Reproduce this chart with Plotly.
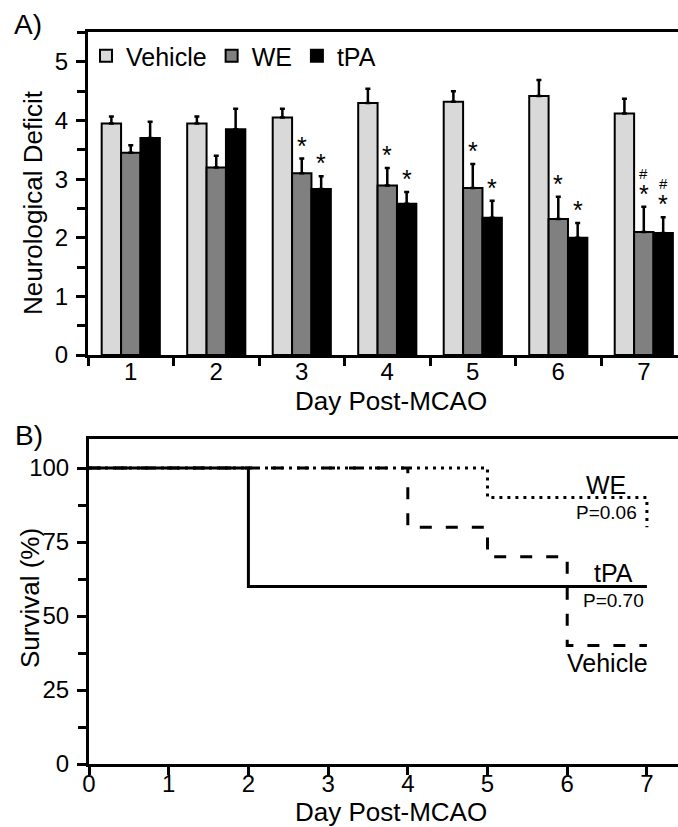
import plotly.graph_objects as go

# ---------------- Panel A data ----------------
days = [1, 2, 3, 4, 5, 6, 7]
vehicle = [3.95, 3.95, 4.05, 4.30, 4.32, 4.42, 4.12]
vehicle_err = [0.12, 0.12, 0.15, 0.24, 0.18, 0.27, 0.25]
we = [3.45, 3.20, 3.10, 2.89, 2.85, 2.32, 2.10]
we_err = [0.13, 0.20, 0.25, 0.30, 0.41, 0.38, 0.43]
tpa = [3.70, 3.85, 2.83, 2.58, 2.34, 2.00, 2.08]
tpa_err = [0.28, 0.35, 0.22, 0.20, 0.29, 0.25, 0.27]
we_star = ["", "", "*", "*", "*", "*", "*"]
we_hash = ["", "", "", "", "", "", "#"]
tpa_star = ["", "", "*", "*", "*", "*", "*"]
tpa_hash = ["", "", "", "", "", "", "#"]

# ---------------- Panel B data ----------------
surv_days_veh = [0, 4, 5, 6, 7]
surv_veh = [100, 80, 70, 40, 40]
surv_days_we = [0, 5, 7]
surv_we = [100, 90, 80]
surv_days_tpa = [0, 2, 7]
surv_tpa = [100, 60, 60]

FONT = "Liberation Sans, Arial, Helvetica, sans-serif"
W, H = 678, 827
BARGAP = 0.32
bw = (1 - BARGAP) / 3


def px_x(p):
    return p / W


def px_y(p):
    return (H - p) / H


fig = go.Figure()

bar_common = dict(xaxis="x", yaxis="y", marker_line_color="black", marker_line_width=2)
for name, vals, errs, col in [("Vehicle", vehicle, vehicle_err, "#d9d9d9"),
                              ("WE", we, we_err, "#808080"),
                              ("tPA", tpa, tpa_err, "#000000")]:
    fig.add_trace(go.Bar(
        x=days, y=vals, name=name, marker_color=col,
        error_y=dict(type="data", array=errs, arrayminus=[0] * len(errs), symmetric=False,
                     color="black", thickness=2.5, width=2.5),
        **bar_common))

# survival curves
fig.add_trace(go.Scatter(x=surv_days_veh, y=surv_veh, mode="lines", line_shape="hv",
                         line=dict(color="black", width=3, dash="12px,14px"),
                         xaxis="x2", yaxis="y2", showlegend=False))
fig.add_trace(go.Scatter(x=surv_days_we, y=surv_we, mode="lines", line_shape="hv",
                         line=dict(color="black", width=3, dash="3px,5px"),
                         xaxis="x2", yaxis="y2", showlegend=False))
fig.add_trace(go.Scatter(x=surv_days_tpa, y=surv_tpa, mode="lines", line_shape="hv",
                         line=dict(color="black", width=3),
                         xaxis="x2", yaxis="y2", showlegend=False))

ann = []
# significance markers
for i, d in enumerate(days):
    for offs, vals, errs, star, hsh in [(0.0, we, we_err, we_star, we_hash),
                                       (bw, tpa, tpa_err, tpa_star, tpa_hash)]:
        top = vals[i] + errs[i]
        if star[i]:
            ann.append(dict(x=d + offs, y=top, xref="x", yref="y", text=star[i], showarrow=False,
                            xanchor="center", yanchor="bottom", yshift=-3,
                            font=dict(size=25, family=FONT, color="black")))
        if hsh[i]:
            ann.append(dict(x=d + offs, y=top, xref="x", yref="y", text=hsh[i], showarrow=False,
                            xanchor="center", yanchor="bottom", yshift=23,
                            font=dict(size=15, family=FONT, color="black")))

# survival labels
for txt, x, y, sz in [("WE", 6.49, 94.3, 25), ("P=0.06", 6.49, 85.1, 19),
                      ("tPA", 6.58, 64.5, 25), ("P=0.70", 6.58, 55.4, 19),
                      ("Vehicle", 6.5, 34.1, 25)]:
    ann.append(dict(x=x, y=y, xref="x2", yref="y2", text=txt, showarrow=False,
                    xanchor="center", yanchor="middle",
                    font=dict(size=sz, family=FONT, color="black")))

TITLE_SZ = 26
# panel letters and axis titles
for txt, x, y, ang, sz in [("A)", 28, 25, 0, 28), ("B)", 29, 435, 0, 28),
                           ("Day Post-MCAO", 391, 401, 0, TITLE_SZ),
                           ("Day Post-MCAO", 391, 812, 0, TITLE_SZ),
                           ("Neurological Deficit", 33, 203, -90, TITLE_SZ),
                           ("Survival (%)", 30, 598, -90, TITLE_SZ)]:
    ann.append(dict(x=px_x(x), y=px_y(y), xref="paper", yref="paper", text=txt, showarrow=False,
                    xanchor="center", yanchor="middle", textangle=ang,
                    font=dict(size=sz, family=FONT, color="black")))

axis_common = dict(showgrid=False, zeroline=False, showline=True, linecolor="black", linewidth=3,
                   tickfont=dict(size=24, family=FONT, color="black"), tickcolor="black",
                   tickwidth=3, automargin=False)

fig.update_layout(
    template="none",
    width=W, height=H, margin=dict(l=0, r=0, t=0, b=0, pad=0), autosize=False,
    paper_bgcolor="white", plot_bgcolor="white",
    barmode="group", bargap=BARGAP, bargroupgap=0,
    font=dict(family=FONT, color="black"),
    showlegend=True,
    legend=dict(orientation="h", x=px_x(86), y=px_y(33), xanchor="left", yanchor="top",
                font=dict(size=25, family=FONT, color="black"), bgcolor="rgba(0,0,0,0)",
                borderwidth=0, itemclick=False, traceorder="normal"),
    xaxis=dict(domain=[px_x(88), 1], anchor="y", range=[0.5, 7.4],
               tickvals=days, ticktext=[str(d) for d in days], ticks="",
               minor=dict(ticks="outside", tick0=0.5, dtick=1, ticklen=8, tickwidth=3, tickcolor="black"),
               ticklabelstandoff=-7, mirror=True, **axis_common),
    yaxis=dict(domain=[px_y(355), px_y(32)], anchor="x", range=[0, 5.51],
               tickvals=[0, 1, 2, 3, 4, 5], ticks="outside", ticklen=9,
               minor=dict(ticks="outside", tick0=0.5, dtick=1, ticklen=8, tickwidth=3, tickcolor="black"),
               ticklabelstandoff=3, **axis_common),
    xaxis2=dict(domain=[px_x(89), 1], anchor="y2", range=[0, 7.39],
                tickvals=[0, 1, 2, 3, 4, 5, 6, 7], ticks="outside", ticklen=8,
                ticklabelstandoff=-12, mirror=True, **axis_common),
    yaxis2=dict(domain=[px_y(764), px_y(439)], anchor="x2", range=[0, 109.8],
                tickvals=[0, 25, 50, 75, 100], ticks="outside", ticklen=9,
                minor=dict(ticks="outside", tick0=12.5, dtick=25, ticklen=8, tickwidth=3, tickcolor="black"),
                ticklabelstandoff=3, **axis_common),
    annotations=ann,
)

fig.write_html("out.html")
